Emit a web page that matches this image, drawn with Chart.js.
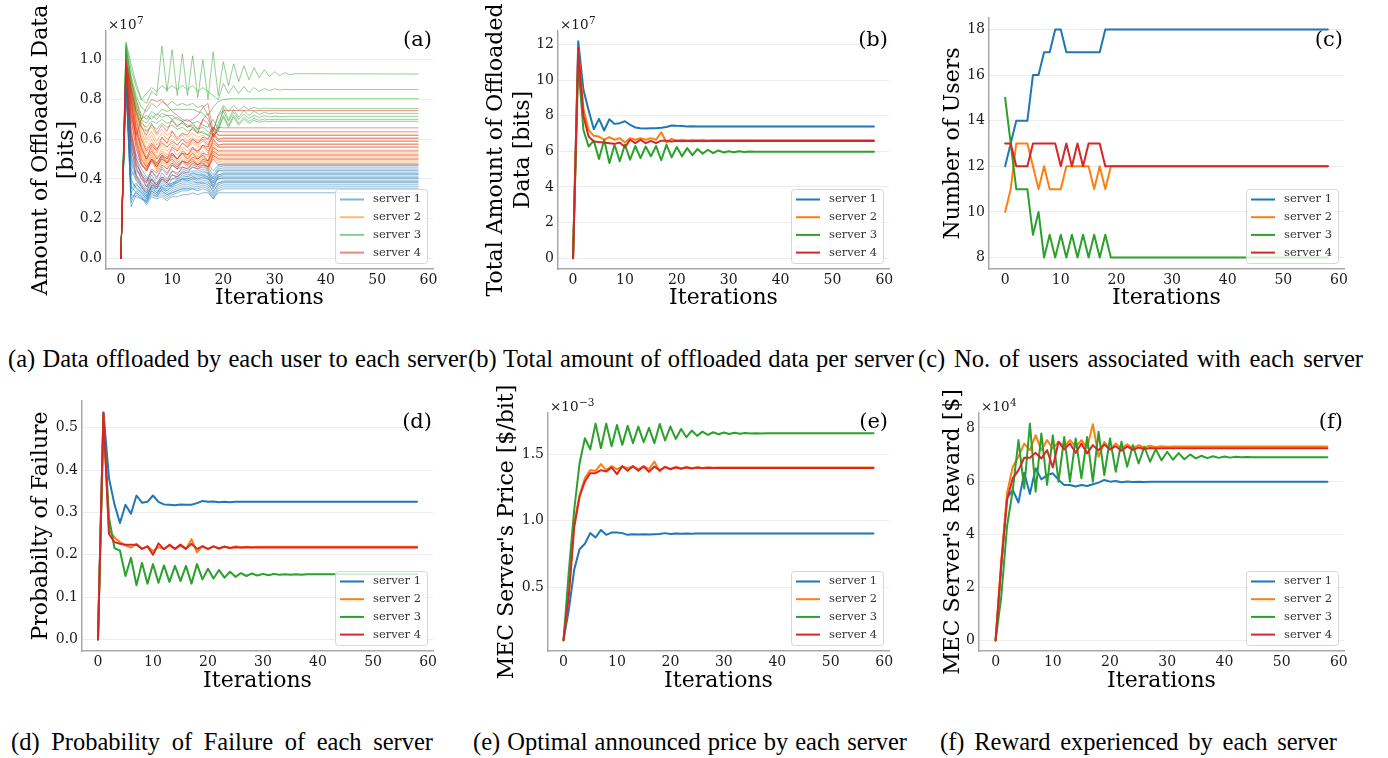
<!DOCTYPE html>
<html>
<head>
<meta charset="utf-8">
<script src="https://cdn.jsdelivr.net/npm/chart.js@4.4.1/dist/chart.umd.min.js"></script>
<style>
  body { margin: 0; background: #fff; width: 1388px; height: 758px; position: relative; overflow: hidden; }
  canvas { position: absolute; }
  .cap { position: absolute; font-family: "Liberation Serif", "Times New Roman", serif; font-size: 24.5px;
         line-height: 24.5px; color: #000; white-space: nowrap; text-align: justify; text-align-last: justify; }
</style>
</head>
<body>
<script>
// ---- data ----
const iters = [0,1,2,3,4,5,6,7,8,9,10,11,12,13,14,15,16,17,18,19,20,21,22,23,24,25,26,27,28,29,
  30,31,32,33,34,35,36,37,38,39,40,41,42,43,44,45,46,47,48,49,50,51,52,53,54,55,56,57,58];
const iterShort = [0,1,2,3,4,5,6,7,8,9,10,11,12,13,14,15,16,17,18,19,20,58];
const iterLong = [0,1,2,3,4,5,6,7,8,9,10,11,12,13,14,15,16,17,18,19,20,21,22,23,24,25,26,27,28,29,30,31,32,33,34,58];
const iterTicks = [0,10,20,30,40,50,60];
const serverNames = ['server 1','server 2','server 3','server 4'];
const serverColors = ['#1f77b4','#ff7f0e','#2ca02c','#d62728'];

// (a) data offloaded by each user (x1e7 bits), users of server 1..4
const userData1 = [
  [0,0.98,0.62,0.52,0.47,0.45,0.50,0.47,0.52,0.48, 0.50,0.47,0.49,0.48,0.50,0.47,0.49,0.48,0.44,0.47, 0.475,0.475],
  [0,0.95,0.55,0.45,0.40,0.38,0.44,0.41,0.46,0.43, 0.47,0.45,0.46,0.45,0.47,0.46,0.47,0.46,0.42,0.46, 0.465,0.465],
  [0,0.92,0.48,0.40,0.36,0.33,0.40,0.37,0.43,0.40, 0.44,0.43,0.45,0.44,0.46,0.45,0.46,0.45,0.40,0.45, 0.455,0.455],
  [0,0.90,0.35,0.38,0.34,0.31,0.36,0.35,0.40,0.38, 0.42,0.41,0.43,0.43,0.44,0.44,0.45,0.44,0.38,0.44, 0.445,0.445],
  [0,0.93,0.42,0.44,0.42,0.36,0.42,0.38,0.41,0.39, 0.40,0.41,0.43,0.42,0.43,0.43,0.44,0.43,0.41,0.44, 0.44,0.44],
  [0,0.88,0.30,0.33,0.31,0.28,0.34,0.32,0.37,0.36, 0.40,0.40,0.42,0.41,0.43,0.42,0.43,0.43,0.36,0.42, 0.43,0.43],
  [0,0.96,0.58,0.47,0.43,0.40,0.38,0.35,0.38,0.36, 0.37,0.40,0.41,0.41,0.42,0.42,0.42,0.42,0.40,0.42, 0.425,0.425],
  [0,0.91,0.26,0.32,0.30,0.29,0.33,0.31,0.35,0.34, 0.37,0.38,0.40,0.40,0.41,0.41,0.42,0.41,0.35,0.41, 0.42,0.42],
  [0,0.97,0.60,0.50,0.45,0.41,0.39,0.37,0.40,0.38, 0.36,0.39,0.40,0.40,0.41,0.40,0.41,0.41,0.39,0.41, 0.41,0.41],
  [0,0.89,0.38,0.36,0.33,0.30,0.37,0.36,0.39,0.37, 0.38,0.39,0.40,0.39,0.40,0.40,0.41,0.40,0.37,0.40, 0.405,0.405],
  [0,0.94,0.50,0.42,0.38,0.35,0.40,0.36,0.36,0.35, 0.38,0.38,0.39,0.39,0.40,0.39,0.40,0.40,0.38,0.40, 0.40,0.40],
  [0,0.87,0.28,0.34,0.32,0.29,0.35,0.33,0.36,0.34, 0.36,0.37,0.38,0.38,0.39,0.38,0.39,0.39,0.33,0.38, 0.39,0.39],
  [0,0.92,0.45,0.39,0.36,0.32,0.37,0.35,0.35,0.33, 0.35,0.36,0.37,0.37,0.38,0.38,0.38,0.38,0.36,0.38, 0.385,0.385],
  [0,0.90,0.33,0.37,0.35,0.31,0.36,0.34,0.34,0.32, 0.34,0.35,0.36,0.36,0.37,0.37,0.38,0.37,0.34,0.37, 0.38,0.38],
  [0,0.86,0.40,0.35,0.33,0.30,0.34,0.32,0.33,0.31, 0.33,0.34,0.35,0.35,0.36,0.36,0.37,0.36,0.32,0.36, 0.37,0.37],
  [0,0.95,0.52,0.41,0.37,0.33,0.36,0.33,0.34,0.32, 0.33,0.34,0.35,0.35,0.35,0.35,0.36,0.35,0.31,0.35, 0.36,0.36],
  [0,0.85,0.32,0.31,0.30,0.28,0.32,0.31,0.32,0.30, 0.32,0.33,0.34,0.34,0.35,0.34,0.35,0.34,0.30,0.34, 0.35,0.35],
  [0,0.88,0.36,0.33,0.31,0.27,0.31,0.30,0.31,0.29, 0.31,0.31,0.32,0.32,0.33,0.32,0.33,0.33,0.30,0.33, 0.33,0.33]
];
const userData2 = [
  [0,1.00,0.90,0.80,0.70,0.64,0.66,0.62,0.65,0.62, 0.64,0.61,0.63,0.61,0.63,0.61,0.62,0.60,0.64,0.62, 0.62,0.62],
  [0,0.98,0.88,0.77,0.67,0.60,0.64,0.59,0.63,0.60, 0.62,0.59,0.62,0.59,0.61,0.59,0.61,0.58,0.63,0.60, 0.605,0.605],
  [0,0.97,0.85,0.74,0.64,0.58,0.62,0.57,0.61,0.58, 0.60,0.57,0.60,0.57,0.59,0.57,0.59,0.56,0.62,0.59, 0.59,0.59],
  [0,1.01,0.86,0.72,0.62,0.55,0.60,0.55,0.59,0.56, 0.58,0.55,0.58,0.56,0.58,0.56,0.57,0.55,0.60,0.57, 0.575,0.575],
  [0,0.96,0.83,0.70,0.60,0.53,0.58,0.53,0.57,0.54, 0.57,0.54,0.56,0.54,0.56,0.54,0.56,0.53,0.59,0.56, 0.56,0.56],
  [0,0.99,0.82,0.68,0.58,0.51,0.56,0.51,0.55,0.52, 0.55,0.52,0.55,0.52,0.54,0.52,0.54,0.51,0.57,0.54, 0.545,0.545],
  [0,0.95,0.80,0.66,0.56,0.49,0.55,0.50,0.54,0.51, 0.53,0.50,0.53,0.51,0.53,0.51,0.53,0.49,0.56,0.53, 0.53,0.53],
  [0,0.97,0.79,0.64,0.54,0.48,0.53,0.48,0.52,0.49, 0.52,0.49,0.52,0.50,0.52,0.50,0.52,0.48,0.55,0.52, 0.52,0.52],
  [0,0.94,0.76,0.62,0.53,0.47,0.52,0.47,0.51,0.48, 0.51,0.48,0.51,0.49,0.51,0.49,0.51,0.47,0.54,0.51, 0.51,0.51],
  [0,0.98,0.74,0.60,0.52,0.46,0.51,0.46,0.50,0.47, 0.50,0.47,0.50,0.48,0.50,0.48,0.50,0.46,0.53,0.50, 0.50,0.50],
  [0,0.93,0.72,0.58,0.50,0.45,0.50,0.45,0.49,0.46, 0.49,0.46,0.49,0.47,0.49,0.47,0.49,0.45,0.52,0.49, 0.49,0.49],
  [0,0.96,0.70,0.56,0.48,0.44,0.49,0.44,0.48,0.45, 0.48,0.45,0.48,0.46,0.48,0.46,0.48,0.44,0.51,0.48, 0.48,0.48]
];
const userData3 = [
  [0,1.09,0.98,0.88,0.80,0.78,0.84,0.82,1.07,0.84, 1.05,0.82,1.03,0.82,1.02,0.81,1.00,0.80,1.04,0.82,
   0.99,0.87,0.98,0.89,0.97,0.90,0.96,0.91,0.95,0.915, 0.94,0.92,0.935,0.925,0.93, 0.928],
  [0,1.08,0.95,0.86,0.80,0.83,0.86,0.84,0.87,0.85, 0.87,0.85,0.87,0.85,0.87,0.84,0.86,0.84,0.82,0.80,
   0.88,0.83,0.87,0.83,0.865,0.835,0.86,0.84,0.855,0.845, 0.853,0.848,0.851,0.849,0.85, 0.85],
  [0,1.06,0.92,0.82,0.76,0.74,0.78,0.76,0.79,0.77, 0.79,0.77,0.78,0.77,0.78,0.76,0.77,0.72,0.76,0.79,
   0.80,0.803,0.804,0.804,0.804,0.804,0.804,0.804,0.804,0.804, 0.804,0.804,0.804,0.804,0.804, 0.804],
  [0,1.05,0.90,0.80,0.72,0.70,0.74,0.72,0.75,0.74, 0.75,0.75,0.75,0.75,0.75,0.74,0.73,0.70,0.64,0.72,
   0.77,0.74,0.77,0.745,0.765,0.75,0.76,0.752,0.757,0.753, 0.755,0.754,0.754,0.754,0.754, 0.754],
  [0,1.04,0.88,0.76,0.70,0.72,0.70,0.73,0.71,0.72, 0.70,0.71,0.69,0.70,0.68,0.69,0.67,0.66,0.70,0.65,
   0.76,0.70,0.75,0.71,0.745,0.72,0.74,0.725,0.735,0.728, 0.732,0.73,0.73,0.73,0.73, 0.73],
  [0,1.03,0.86,0.74,0.68,0.66,0.69,0.68,0.70,0.68, 0.69,0.67,0.68,0.66,0.67,0.65,0.66,0.64,0.62,0.68,
   0.74,0.69,0.735,0.70,0.725,0.705,0.72,0.71,0.718,0.712, 0.716,0.714,0.715,0.715,0.715, 0.715],
  [0,1.02,0.84,0.73,0.66,0.64,0.67,0.65,0.68,0.66, 0.67,0.65,0.66,0.64,0.65,0.63,0.64,0.62,0.66,0.64,
   0.72,0.67,0.72,0.68,0.71,0.69,0.705,0.695,0.702,0.698, 0.70,0.70,0.70,0.70,0.70, 0.70],
  [0,1.07,0.90,0.78,0.70,0.68,0.72,0.70,0.73,0.72, 0.72,0.70,0.69,0.67,0.66,0.64,0.63,0.62,0.60,0.66,
   0.71,0.66,0.71,0.67,0.70,0.68,0.695,0.685,0.692,0.688, 0.69,0.69,0.69,0.69,0.69, 0.69]
];
const userData4 = [
  [0,0.97,0.72,0.62,0.70,0.76,0.80,0.79,0.80,0.77, 0.74,0.72,0.70,0.69,0.70,0.72,0.76,0.78,0.64,0.72, 0.744,0.744],
  [0,0.99,0.86,0.74,0.66,0.62,0.68,0.63,0.67,0.64, 0.70,0.66,0.69,0.66,0.68,0.65,0.70,0.68,0.61,0.66, 0.657,0.657],
  [0,0.95,0.78,0.64,0.55,0.50,0.57,0.54,0.61,0.58, 0.64,0.60,0.63,0.62,0.66,0.63,0.70,0.73,0.62,0.64, 0.637,0.637],
  [0,1.00,0.80,0.60,0.50,0.46,0.50,0.48,0.52,0.50, 0.56,0.54,0.58,0.56,0.60,0.58,0.61,0.60,0.66,0.62, 0.62,0.62],
  [0,0.96,0.70,0.55,0.47,0.44,0.49,0.46,0.50,0.48, 0.52,0.50,0.53,0.52,0.55,0.54,0.57,0.56,0.63,0.60, 0.605,0.605],
  [0,0.98,0.84,0.70,0.60,0.54,0.58,0.55,0.58,0.56, 0.59,0.57,0.60,0.58,0.60,0.58,0.60,0.57,0.62,0.59, 0.59,0.59],
  [0,0.94,0.66,0.50,0.42,0.38,0.44,0.40,0.45,0.42, 0.47,0.45,0.49,0.48,0.51,0.50,0.53,0.52,0.60,0.57, 0.575,0.575],
  [0,0.97,0.76,0.58,0.48,0.44,0.50,0.46,0.51,0.48, 0.53,0.50,0.54,0.52,0.56,0.53,0.57,0.54,0.58,0.56, 0.56,0.56],
  [0,0.93,0.60,0.46,0.40,0.36,0.40,0.37,0.41,0.39, 0.44,0.42,0.46,0.45,0.48,0.47,0.50,0.49,0.56,0.54, 0.54,0.54],
  [0,0.99,0.82,0.66,0.56,0.50,0.54,0.50,0.53,0.50, 0.53,0.50,0.53,0.50,0.53,0.50,0.52,0.49,0.54,0.52, 0.52,0.52],
  [0,0.92,0.56,0.42,0.37,0.34,0.38,0.36,0.40,0.38, 0.42,0.41,0.44,0.43,0.46,0.45,0.47,0.46,0.52,0.50, 0.50,0.50],
  [0,0.95,0.64,0.48,0.42,0.39,0.45,0.43,0.47,0.45, 0.48,0.46,0.49,0.47,0.49,0.47,0.48,0.46,0.50,0.47, 0.47,0.47]
];

// (b) total offloaded data per server (x1e7 bits)
const totalData1 = [0,12.18,9.45,8.30,7.24,7.82,7.17,7.80,7.54,7.58, 7.69,7.49,7.34,7.30,7.28,7.30,7.30,7.32,7.37,7.45,
  7.43,7.42,7.40,7.41,7.39,7.40,7.39,7.40,7.39,7.39, 7.39,7.39,7.39,7.39,7.39,7.39,7.39,7.39,7.39,7.39,
  7.39,7.39,7.39,7.39,7.39,7.39,7.39,7.39,7.39,7.39, 7.39,7.39,7.39,7.39,7.39,7.39,7.39,7.39,7.39];
const totalData2 = [0,11.70,8.40,7.20,6.87,6.83,6.65,6.80,6.65,6.74, 6.50,6.74,6.65,6.74,6.65,6.74,6.65,7.07,6.50,6.70,
  6.60,6.65,6.60,6.64,6.61,6.63,6.61,6.62,6.62,6.62, 6.62,6.62,6.62,6.62,6.62,6.62,6.62,6.62,6.62,6.62,
  6.62,6.62,6.62,6.62,6.62,6.62,6.62,6.62,6.62,6.62, 6.62,6.62,6.62,6.62,6.62,6.62,6.62,6.62,6.62];
const totalData3 = [0,10.90,7.20,6.27,6.60,5.57,6.65,5.34,6.37,5.44, 6.37,5.53,6.30,5.62,6.27,5.72,6.30,5.50,6.37,5.66,
  6.24,5.72,6.18,5.79,6.13,5.87,6.09,5.90,6.05,5.94, 6.01,5.95,6.00,5.96,5.99,5.97,5.98,5.97,5.97,5.97,
  5.97,5.97,5.97,5.97,5.97,5.97,5.97,5.97,5.97,5.97, 5.97,5.97,5.97,5.97,5.97,5.97,5.97,5.97,5.97];
const totalData4 = [0,11.75,8.00,6.83,6.55,6.52,6.50,6.46,6.42,6.50, 6.24,6.65,6.46,6.65,6.46,6.59,6.46,6.60,6.60,6.55,
  6.60,6.57,6.60,6.57,6.59,6.57,6.58,6.58,6.58,6.58, 6.58,6.58,6.58,6.58,6.58,6.58,6.58,6.58,6.58,6.58,
  6.58,6.58,6.58,6.58,6.58,6.58,6.58,6.58,6.58,6.58, 6.58,6.58,6.58,6.58,6.58,6.58,6.58,6.58,6.58];

// (c) number of users per server
const users1 = [12,13,14,14,14,16,16,17,17,18, 18,17,17,17,17,17,17,17,18,18,
  18,18,18,18,18,18,18,18,18,18, 18,18,18,18,18,18,18,18,18,18, 18,18,18,18,18,18,18,18,18,18, 18,18,18,18,18,18,18,18,18];
const users2 = [10,11,13,13,13,12,11,12,11,11, 11,12,12,12,12,12,11,12,11,12,
  12,12,12,12,12,12,12,12,12,12, 12,12,12,12,12,12,12,12,12,12, 12,12,12,12,12,12,12,12,12,12, 12,12,12,12,12,12,12,12,12];
const users3 = [15,13,11,11,11,9,10,8,9,8, 9,8,9,8,9,8,9,8,9,8,
  8,8,8,8,8,8,8,8,8,8, 8,8,8,8,8,8,8,8,8,8, 8,8,8,8,8,8,8,8,8,8, 8,8,8,8,8,8,8,8,8];
const users4 = [13,13,12,12,12,13,13,13,13,13, 12,13,12,13,12,13,13,13,12,12,
  12,12,12,12,12,12,12,12,12,12, 12,12,12,12,12,12,12,12,12,12, 12,12,12,12,12,12,12,12,12,12, 12,12,12,12,12,12,12,12,12];

// (d) probability of failure
const failure1 = [0,0.536,0.381,0.319,0.275,0.318,0.297,0.340,0.323,0.325, 0.340,0.325,0.319,0.318,0.317,0.319,0.318,0.318,0.322,0.327,
  0.325,0.326,0.324,0.325,0.324,0.325,0.325,0.325,0.325,0.325, 0.325,0.325,0.325,0.325,0.325,0.325,0.325,0.325,0.325,0.325,
  0.325,0.325,0.325,0.325,0.325,0.325,0.325,0.325,0.325,0.325, 0.325,0.325,0.325,0.325,0.325,0.325,0.325,0.325,0.325];
const failure2 = [0,0.530,0.257,0.241,0.230,0.222,0.217,0.226,0.214,0.220, 0.209,0.218,0.214,0.222,0.214,0.221,0.214,0.237,0.206,0.221,
  0.213,0.220,0.215,0.220,0.216,0.220,0.217,0.219,0.218,0.219, 0.219,0.219,0.219,0.219,0.219,0.219,0.219,0.219,0.219,0.219,
  0.219,0.219,0.219,0.219,0.219,0.219,0.219,0.219,0.219,0.219, 0.219,0.219,0.219,0.219,0.219,0.219,0.219,0.219,0.219];
const failure3 = [0,0.520,0.288,0.216,0.210,0.150,0.193,0.128,0.181,0.132, 0.178,0.134,0.175,0.136,0.174,0.138,0.174,0.132,0.178,0.142,
  0.167,0.144,0.164,0.146,0.160,0.148,0.157,0.150,0.156,0.151, 0.155,0.152,0.155,0.153,0.154,0.153,0.154,0.153,0.154,0.154,
  0.154,0.154,0.154,0.154,0.154,0.154,0.154,0.154,0.154,0.154, 0.154,0.154,0.154,0.154,0.154,0.154,0.154,0.154,0.154];
const failure4 = [0,0.535,0.249,0.230,0.226,0.224,0.224,0.224,0.214,0.220, 0.200,0.227,0.213,0.224,0.214,0.224,0.214,0.226,0.214,0.220,
  0.214,0.220,0.215,0.219,0.216,0.218,0.217,0.218,0.217,0.217, 0.217,0.217,0.217,0.217,0.217,0.217,0.217,0.217,0.217,0.217,
  0.217,0.217,0.217,0.217,0.217,0.217,0.217,0.217,0.217,0.217, 0.217,0.217,0.217,0.217,0.217,0.217,0.217,0.217,0.217];

// (e) announced price (x1e-3 $/bit)
const price1 = [0.10,0.33,0.63,0.785,0.826,0.906,0.873,0.930,0.893,0.910, 0.910,0.906,0.893,0.898,0.895,0.898,0.895,0.898,0.900,0.906,
  0.900,0.904,0.901,0.904,0.902,0.904,0.903,0.903,0.903,0.903, 0.903,0.903,0.903,0.903,0.903,0.903,0.903,0.903,0.903,0.903,
  0.903,0.903,0.903,0.903,0.903,0.903,0.903,0.903,0.903,0.903, 0.903,0.903,0.903,0.903,0.903,0.903,0.903,0.903,0.903];
const price2 = [0.10,0.45,0.98,1.19,1.32,1.38,1.375,1.425,1.38,1.41, 1.387,1.407,1.395,1.41,1.387,1.41,1.387,1.445,1.37,1.407,
  1.39,1.405,1.392,1.403,1.395,1.402,1.397,1.40,1.398,1.399, 1.399,1.399,1.399,1.399,1.399,1.399,1.399,1.399,1.399,1.399,
  1.399,1.399,1.399,1.399,1.399,1.399,1.399,1.399,1.399,1.399, 1.399,1.399,1.399,1.399,1.399,1.399,1.399,1.399,1.399];
const price3 = [0.10,0.62,1.08,1.43,1.62,1.537,1.73,1.545,1.73,1.56, 1.72,1.57,1.713,1.583,1.708,1.59,1.698,1.583,1.728,1.603,
  1.708,1.615,1.69,1.628,1.678,1.638,1.67,1.645,1.665,1.65, 1.663,1.652,1.661,1.654,1.659,1.655,1.658,1.656,1.658,1.657,
  1.657,1.657,1.657,1.657,1.657,1.657,1.657,1.657,1.657,1.657, 1.657,1.657,1.657,1.657,1.657,1.657,1.657,1.657,1.657];
const price4 = [0.10,0.44,0.95,1.18,1.295,1.357,1.357,1.38,1.37,1.40, 1.35,1.41,1.375,1.41,1.375,1.407,1.367,1.407,1.38,1.403,
  1.387,1.40,1.39,1.40,1.393,1.399,1.395,1.398,1.396,1.396, 1.396,1.396,1.396,1.396,1.396,1.396,1.396,1.396,1.396,1.396,
  1.396,1.396,1.396,1.396,1.396,1.396,1.396,1.396,1.396,1.396, 1.396,1.396,1.396,1.396,1.396,1.396,1.396,1.396,1.396];

// (f) server reward (x1e4 $)
const reward1 = [0,2.8,5.35,5.66,5.19,6.31,5.51,6.48,6.06,6.22, 6.29,6.04,5.85,5.85,5.79,5.85,5.81,5.875,5.94,6.04,
  5.975,6.0,5.95,5.98,5.96,5.975,5.965,5.97,5.97,5.97, 5.97,5.97,5.97,5.97,5.97,5.97,5.97,5.97,5.97,5.97,
  5.97,5.97,5.97,5.97,5.97,5.97,5.97,5.97,5.97,5.97, 5.97,5.97,5.97,5.97,5.97,5.97,5.97,5.97,5.97];
const reward2 = [0,3.0,5.54,6.54,6.91,7.41,7.16,7.725,7.16,7.54, 7.225,7.475,7.29,7.54,7.29,7.54,7.25,8.14,6.91,7.475,
  7.19,7.41,7.22,7.38,7.24,7.35,7.26,7.33,7.28,7.31, 7.29,7.30,7.30,7.30,7.30,7.30,7.30,7.30,7.30,7.30,
  7.30,7.30,7.30,7.30,7.30,7.30,7.30,7.30,7.30,7.30, 7.30,7.30,7.30,7.30,7.30,7.30,7.30,7.30,7.30];
const reward3 = [0,1.66,4.29,5.66,7.54,5.72,8.16,5.6,7.79,5.85, 7.72,5.975,7.66,5.975,7.6,6.1,7.66,5.975,7.85,6.225,
  7.6,6.35,7.475,6.54,7.35,6.66,7.29,6.725,7.2,6.78, 7.1,6.8,7.05,6.82,7.0,6.85,6.95,6.86,6.93,6.87,
  6.92,6.88,6.91,6.89,6.9,6.89,6.89,6.89,6.89,6.89, 6.89,6.89,6.89,6.89,6.89,6.89,6.89,6.89,6.89];
const reward4 = [0,2.9,5.29,6.1,6.41,6.875,6.875,7.06,6.85,7.16, 6.51,7.475,7.19,7.41,7.06,7.41,7.04,7.35,7.16,7.375,
  7.19,7.31,7.14,7.3,7.17,7.26,7.2,7.24,7.22,7.23, 7.23,7.23,7.23,7.23,7.23,7.23,7.23,7.23,7.23,7.23,
  7.23,7.23,7.23,7.23,7.23,7.23,7.23,7.23,7.23,7.23, 7.23,7.23,7.23,7.23,7.23,7.23,7.23,7.23,7.23];

// y tick values and labels
const offloadTicks = [0, 0.2, 0.4, 0.6, 0.8, 1.0];
const offloadTickLabels = ['0.0','0.2','0.4','0.6','0.8','1.0'];
const totalTicks = [0, 2, 4, 6, 8, 10, 12];
const totalTickLabels = ['0','2','4','6','8','10','12'];
const userTicks = [8, 10, 12, 14, 16, 18];
const userTickLabels = ['8','10','12','14','16','18'];
const failureTicks = [0, 0.1, 0.2, 0.3, 0.4, 0.5];
const failureTickLabels = ['0.0','0.1','0.2','0.3','0.4','0.5'];
const priceTicks = [0.5, 1.0, 1.5];
const priceTickLabels = ['0.5','1.0','1.5'];
const rewardTicks = [0, 2, 4, 6, 8];
const rewardTickLabels = ['0','2','4','6','8'];

// ---- drawing ----
const serif = "'DejaVu Serif', serif";
const ink = '#1a1a1a';
const spine = '#a8a8a8';

function rgba(hex, a) {
  const n = parseInt(hex.slice(1), 16);
  return `rgba(${n >> 16},${(n >> 8) & 255},${n & 255},${a})`;
}

function serverLines(arrs) {
  return arrs.map((ys, s) => ({
    data: ys.map((y, k) => ({ x: iters[k], y })),
    borderColor: serverColors[s], borderWidth: 2, order: 4 - s
  }));
}

function userLines() {
  const out = [];
  [userData1, userData2, userData3, userData4].forEach((group, s) => {
    const xs = s === 2 ? iterLong : iterShort;
    group.forEach(ys => out.push({
      data: ys.map((y, k) => ({ x: xs[k], y })),
      borderColor: rgba(serverColors[s], 0.5), borderWidth: 1, order: 4 - s
    }));
  });
  return out;
}

const panels = [
  { left: 0, top: 0, w: 463, h: 320, area: { left: 106, top: 31, right: 433, bottom: 269 },
    yMin: -0.054, yMax: 1.145, yTicks: offloadTicks, yLabels: offloadTickLabels,
    yTitle: ['Amount of Offloaded Data', '[bits]'], yTitleX: 41, xTitleY: 297.5,
    tag: '(a)', tagY: 41, exp: '7', datasets: userLines(), legendAlpha: 0.55 },
  { left: 463, top: 0, w: 457, h: 320, area: { left: 95, top: 31, right: 426, bottom: 269 },
    yMin: -0.6, yMax: 12.75, yTicks: totalTicks, yLabels: totalTickLabels,
    yTitle: ['Total Amount of Offloaded', 'Data [bits]'], yTitleX: 33.5, xTitleY: 297.5,
    tag: '(b)', tagY: 41, exp: '7', datasets: serverLines([totalData1, totalData2, totalData3, totalData4]) },
  { left: 920, top: 0, w: 468, h: 320, area: { left: 69, top: 18, right: 424, bottom: 269 },
    yMin: 7.5, yMax: 18.5, yTicks: userTicks, yLabels: userTickLabels,
    yTitle: 'Number of Users', yTitleX: 33, xTitleY: 297.5,
    tag: '(c)', tagY: 41, exp: null, datasets: serverLines([users1, users2, users3, users4]) },
  { left: 0, top: 380, w: 463, h: 330, area: { left: 82, top: 21, right: 433, bottom: 271 },
    yMin: -0.027, yMax: 0.563, yTicks: failureTicks, yLabels: failureTickLabels,
    yTitle: 'Probabilty of Failure', yTitleX: 41.5, xTitleY: 300,
    tag: '(d)', tagY: 42.5, exp: null, datasets: serverLines([failure1, failure2, failure3, failure4]) },
  { left: 463, top: 380, w: 457, h: 330, area: { left: 85, top: 33, right: 426, bottom: 271 },
    yMin: 0.019, yMax: 1.81, yTicks: priceTicks, yLabels: priceTickLabels,
    yTitle: "MEC Server's Price [$/bit]", yTitleX: 44, xTitleY: 300,
    tag: '(e)', tagY: 43, exp: '\u22123', datasets: serverLines([price1, price2, price3, price4]) },
  { left: 920, top: 380, w: 468, h: 330, area: { left: 59, top: 33, right: 424, bottom: 271 },
    yMin: -0.4, yMax: 8.56, yTicks: rewardTicks, yLabels: rewardTickLabels,
    yTitle: "MEC Server's Reward [$]", yTitleX: 33, xTitleY: 300,
    tag: '(f)', tagY: 42.5, exp: '4', datasets: serverLines([reward1, reward2, reward3, reward4]) }
];

function decor(p) {
  return {
    id: 'decor',
    afterDatasetsDraw(chart) {
      const ctx = chart.ctx, a = chart.chartArea;
      ctx.save();
      // legend box, bottom right inside the axes
      const bw = 92, bh = 74, bx = a.right - 6 - bw, by = a.bottom - 6 - bh;
      ctx.beginPath();
      ctx.roundRect(bx + 0.5, by + 0.5, bw, bh, 3);
      ctx.fillStyle = 'rgba(255,255,255,0.8)';
      ctx.fill();
      ctx.strokeStyle = '#d6d6d6';
      ctx.lineWidth = 1;
      ctx.stroke();
      ctx.font = '11.5px ' + serif;
      ctx.textAlign = 'left';
      ctx.textBaseline = 'middle';
      serverNames.forEach((name, k) => {
        const yy = by + 10.5 + k * 17.7;
        ctx.beginPath();
        ctx.moveTo(bx + 5, yy);
        ctx.lineTo(bx + 29, yy);
        ctx.strokeStyle = p.legendAlpha ? rgba(serverColors[k], p.legendAlpha) : serverColors[k];
        ctx.lineWidth = 2;
        ctx.stroke();
        ctx.fillStyle = '#333';
        ctx.fillText(name, bx + 38, yy);
      });
      // panel tag
      ctx.font = '21px ' + serif;
      ctx.fillStyle = '#000';
      ctx.textAlign = 'right';
      ctx.fillText(p.tag, a.right - 1, p.tagY);
      // axis multiplier
      if (p.exp) {
        ctx.textAlign = 'left';
        ctx.textBaseline = 'alphabetic';
        ctx.fillStyle = ink;
        ctx.font = '13.5px ' + serif;
        const base = '\u00d710';
        ctx.fillText(base, a.left + 2, a.top - 2.5);
        const w = ctx.measureText(base).width;
        ctx.font = '10.5px ' + serif;
        ctx.fillText(p.exp, a.left + 2 + w + 0.5, a.top - 7.5);
      }
      ctx.restore();
    }
  };
}

panels.forEach(p => {
  const canvas = document.createElement('canvas');
  canvas.width = p.w;
  canvas.height = p.h;
  canvas.style.left = p.left + 'px';
  canvas.style.top = p.top + 'px';
  document.body.appendChild(canvas);
  const titleLH = 22 * 1.2;
  new Chart(canvas, {
    type: 'line',
    data: { datasets: p.datasets },
    options: {
      responsive: false,
      animation: false,
      devicePixelRatio: 1,
      layout: { padding: { left: 0, top: p.area.top, right: p.w - p.area.right, bottom: 0 } },
      elements: { point: { radius: 0 }, line: { tension: 0, borderJoinStyle: 'round', borderCapStyle: 'round' } },
      plugins: { legend: { display: false }, tooltip: { enabled: false } },
      scales: {
        x: {
          type: 'linear', min: -2.9, max: 60.9,
          afterBuildTicks: ax => { ax.ticks = iterTicks.map(v => ({ value: v })); },
          afterFit: s => { s.height = p.h - p.area.bottom; },
          grid: { display: false, drawTicks: false },
          border: { display: true, color: spine, width: 1.5 },
          ticks: { font: { family: serif, size: 14 }, color: ink, padding: 3, maxRotation: 0, autoSkip: false,
                   callback: v => String(v) },
          title: { display: true, text: 'Iterations', color: '#000', font: { family: serif, size: 22 },
                   padding: { top: 0, bottom: p.h - p.xTitleY - titleLH / 2 - 1 } }
        },
        y: {
          type: 'linear', min: p.yMin, max: p.yMax,
          afterBuildTicks: ax => { ax.ticks = p.yTicks.map(v => ({ value: v })); },
          afterFit: s => { s.width = p.area.left; },
          grid: { color: '#ececec', lineWidth: 1, drawTicks: false },
          border: { display: true, color: spine, width: 1.5 },
          ticks: { font: { family: serif, size: 14 }, color: ink, padding: 4,
                   callback: (v, i) => p.yLabels[i] },
          title: { display: true, text: p.yTitle, color: '#000', font: { family: serif, size: 22 },
                   padding: { top: p.yTitleX - titleLH / 2, bottom: 0 } }
        }
      }
    },
    plugins: [decor(p)]
  });
});

// captions, set to the width each one spans under its panel
const captions = [
  { left: 8, width: 459, top: 346.5, text: '(a) Data offloaded by each user to each server' },
  { left: 468, width: 446, top: 346.5, text: '(b) Total amount of offloaded data per server' },
  { left: 918, width: 445, top: 346.5, text: '(c) No. of users associated with each server' },
  { left: 11, width: 422, top: 729.5, text: '(d) Probability of Failure of each server' },
  { left: 473, width: 434, top: 729.5, text: '(e) Optimal announced price by each server' },
  { left: 940, width: 397, top: 729.5, text: '(f) Reward experienced by each server' }
];
captions.forEach(c => {
  const d = document.createElement('div');
  d.className = 'cap';
  d.style.left = c.left + 'px';
  d.style.width = c.width + 'px';
  d.style.top = c.top + 'px';
  d.textContent = c.text;
  document.body.appendChild(d);
});
</script>
</body>
</html>
